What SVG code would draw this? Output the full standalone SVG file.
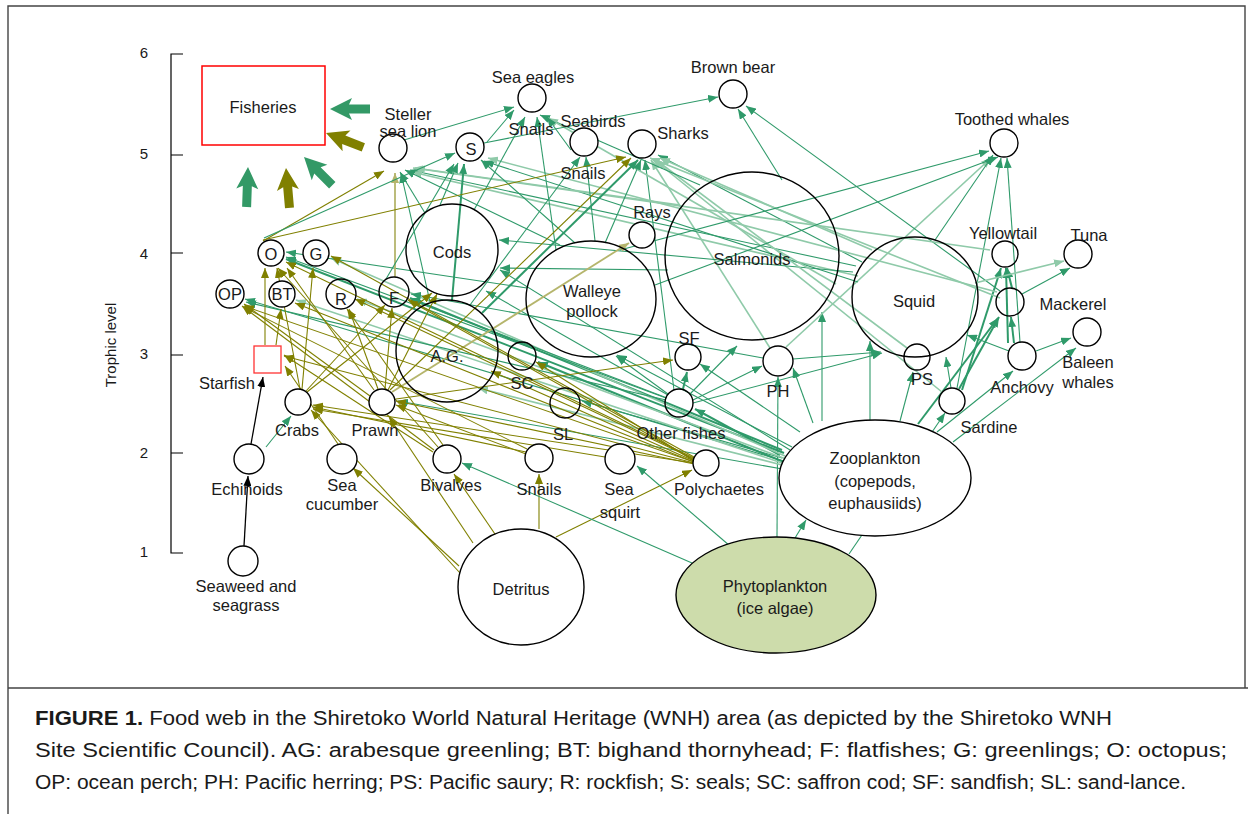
<svg xmlns="http://www.w3.org/2000/svg" width="1248" height="814" viewBox="0 0 1248 814">
<style>
text{font-family:"Liberation Sans",Arial,sans-serif;fill:#1a1a1a;}
.lb{font-size:16.5px;text-anchor:middle;dominant-baseline:central;}
.ax{font-size:15px;text-anchor:middle;dominant-baseline:central;}
.cap{font-size:20px;}
.n{fill:#fff;stroke:#000;stroke-width:1.4;}
line{fill:none;}
.k{stroke:#000;stroke-width:1.3;marker-end:url(#mk);}
.g{stroke:#2f9a6a;stroke-width:1.1;marker-end:url(#mg);}
.gt{stroke:#2f9a6a;stroke-width:2;marker-end:url(#mg);}
.gl{stroke:#8fcaa9;stroke-width:1.6;marker-end:url(#mgl);}
.o{stroke:#808000;stroke-width:1.1;marker-end:url(#mo);}
.ol{stroke:#b5b56c;stroke-width:1.8;marker-end:url(#mol);}
.frame{fill:none;stroke:#444;stroke-width:1.4;}
</style>
<defs>
<marker id="mg" viewBox="0 0 10 8" refX="10" refY="4" markerWidth="10" markerHeight="8" markerUnits="userSpaceOnUse" orient="auto"><path d="M0,0 L10,4 L0,8 z" fill="#2f9a6a"/></marker>
<marker id="mgl" viewBox="0 0 10 8" refX="10" refY="4" markerWidth="10" markerHeight="8" markerUnits="userSpaceOnUse" orient="auto"><path d="M0,0 L10,4 L0,8 z" fill="#8fcaa9"/></marker>
<marker id="mo" viewBox="0 0 10 8" refX="10" refY="4" markerWidth="10" markerHeight="8" markerUnits="userSpaceOnUse" orient="auto"><path d="M0,0 L10,4 L0,8 z" fill="#808000"/></marker>
<marker id="mol" viewBox="0 0 10 8" refX="10" refY="4" markerWidth="10" markerHeight="8" markerUnits="userSpaceOnUse" orient="auto"><path d="M0,0 L10,4 L0,8 z" fill="#b5b56c"/></marker>
<marker id="mk" viewBox="0 0 10 8" refX="10" refY="4" markerWidth="10" markerHeight="8" markerUnits="userSpaceOnUse" orient="auto"><path d="M0,0 L10,4 L0,8 z" fill="#000"/></marker>
<path id="big" d="M0,0 L11,22 L4.5,19 L4.5,40 L-4.5,40 L-4.5,19 L-11,22 Z"/>
</defs>
<rect width="1248" height="814" fill="#fff"/>
<path class="frame" d="M8,814 L8,6 L1245,6 L1245,688 M8,688 L1248,688"/>

<g id="axis">
<path d="M183,54 L171,54 L171,553 L183,553 M171,155 L183,155 M171,253 L183,253 M171,355 L183,355 M171,453 L183,453" fill="none" stroke="#000" stroke-width="1.2"/>
<text class="ax" x="144" y="52">6</text>
<text class="ax" x="144" y="153">5</text>
<text class="ax" x="144" y="253">4</text>
<text class="ax" x="144" y="353">3</text>
<text class="ax" x="144" y="452">2</text>
<text class="ax" x="144" y="551">1</text>
<text class="ax" x="0" y="0" font-size="16" transform="translate(110,345) rotate(-90)">Trophic level</text>
</g>

<g id="connectors">
<line class="k" x1="244" y1="546" x2="248" y2="476"/>
<line class="k" x1="251" y1="444" x2="263" y2="377"/>
<line class="g" x1="266" y1="447" x2="291" y2="416"/>
<!-- detritus -->
<line class="o" x1="460" y1="573" x2="311" y2="410"/>
<line class="o" x1="459" y1="566" x2="353" y2="468"/>
<line class="o" x1="473" y1="543" x2="389" y2="417"/>
<line class="o" x1="497" y1="537" x2="454" y2="474"/>
<line class="o" x1="539" y1="529" x2="539" y2="474"/>
<line class="o" x1="556" y1="537" x2="692" y2="470"/>
<!-- phytoplankton -->
<line class="g" x1="795" y1="538" x2="806" y2="520"/>
<line class="g" x1="730" y1="546" x2="637" y2="466"/>
<line class="g" x1="692" y1="563" x2="462" y2="463"/>
<line class="g" x1="777" y1="537" x2="778" y2="377"/>
<line class="g" x1="849" y1="554" x2="945" y2="413"/>
<!-- zooplankton -->
<line class="g" x1="822" y1="421" x2="822" y2="312"/>
<line class="g" x1="870" y1="421" x2="870" y2="341"/>
<line class="g" x1="900" y1="421" x2="913" y2="372"/>
<line class="g" x1="937" y1="432" x2="1013" y2="371"/>
<line class="g" x1="953" y1="442" x2="1076" y2="348"/>
<line class="gt" x1="918" y1="424" x2="998" y2="318"/>
<line class="gt" x1="780" y1="455" x2="695" y2="409"/>
<line class="g" x1="782" y1="458" x2="582" y2="401"/>
<line class="gt" x1="784" y1="462" x2="538" y2="362"/>
<line class="gl" x1="786" y1="466" x2="478" y2="388"/>
<line class="g" x1="788" y1="470" x2="398" y2="401"/>
<line class="gt" x1="782" y1="450" x2="410" y2="298"/>
<line class="gt" x1="784" y1="453" x2="286" y2="259"/>
<line class="gl" x1="785" y1="456" x2="331" y2="258"/>
<line class="gl" x1="786" y1="459" x2="357" y2="299"/>
<line class="g" x1="787" y1="462" x2="245" y2="299"/>
<line class="gl" x1="788" y1="465" x2="296" y2="300"/>
<line class="g" x1="813" y1="423" x2="793" y2="368"/>
<line class="g" x1="800" y1="432" x2="700" y2="364"/>
<line class="g" x1="792" y1="447" x2="617" y2="355"/>
<line class="g" x1="790" y1="450" x2="500" y2="270"/>
<!-- other fishes -->
<line class="gt" x1="683" y1="389" x2="687" y2="372"/>
<line class="g" x1="690" y1="394" x2="737" y2="346"/>
<line class="g" x1="693" y1="400" x2="762" y2="366"/>
<line class="g" x1="693" y1="403" x2="882" y2="353"/>
<line class="g" x1="666" y1="398" x2="286" y2="257"/>
<line class="g" x1="666" y1="400" x2="246" y2="302"/>
<line class="g" x1="667" y1="398" x2="411" y2="300"/>
<line class="g" x1="668" y1="395" x2="486" y2="291"/>
<line class="g" x1="674" y1="390" x2="645" y2="160"/>
<line class="g" x1="668" y1="394" x2="616" y2="356"/>
<!-- PH -->
<line class="g" x1="793" y1="359" x2="881" y2="352"/>
<line class="g" x1="763" y1="358" x2="411" y2="294"/>
<line class="gl" x1="770" y1="348" x2="651" y2="160"/>
<line class="gl" x1="786" y1="347" x2="991" y2="158"/>
<!-- sardine -->
<line class="g" x1="951" y1="388" x2="946" y2="357"/>
<line class="gt" x1="959" y1="389" x2="999" y2="317"/>
<line class="gt" x1="962" y1="390" x2="1001" y2="268"/>
<line class="g" x1="957" y1="388" x2="1001" y2="158"/>
<line class="gl" x1="942" y1="392" x2="653" y2="159"/>
<!-- anchovy -->
<line class="g" x1="1009" y1="351" x2="967" y2="335"/>
<line class="g" x1="1036" y1="351" x2="1071" y2="338"/>
<line class="gt" x1="1014" y1="343" x2="1011" y2="317"/>
<line class="g" x1="1020" y1="342" x2="1007" y2="158"/>
<line class="gt" x1="1008" y1="343" x2="1006" y2="268"/>
<!-- mackerel -->
<line class="g" x1="1022" y1="294" x2="1070" y2="268"/>
<line class="gt" x1="1012" y1="288" x2="1007" y2="268"/>
<line class="g" x1="1000" y1="291" x2="746" y2="106"/>
<!-- squid -->
<line class="g" x1="935" y1="240" x2="993" y2="155"/>
<line class="gl" x1="975" y1="283" x2="1064" y2="261"/>
<line class="g" x1="856" y1="266" x2="410" y2="170"/>
<line class="gl" x1="858" y1="276" x2="412" y2="172"/>
<line class="g" x1="858" y1="282" x2="484" y2="161"/>
<line class="g" x1="853" y1="272" x2="499" y2="240"/>
<line class="g" x1="862" y1="262" x2="658" y2="155"/>
<line class="gl" x1="872" y1="250" x2="660" y2="158"/>
<line class="gl" x1="907" y1="348" x2="656" y2="160"/>
<!-- salmonids -->
<line class="g" x1="782" y1="180" x2="738" y2="109"/>
<line class="g" x1="700" y1="185" x2="540" y2="115"/>
<line class="gl" x1="680" y1="205" x2="415" y2="168"/>
<line class="g" x1="668" y1="270" x2="500" y2="268"/>
<line class="gl" x1="990" y1="250" x2="413" y2="168"/>
<line class="gl" x1="997" y1="292" x2="488" y2="158"/>
<line class="gl" x1="1000" y1="298" x2="650" y2="158"/>
<line class="gl" x1="836" y1="284" x2="548" y2="118"/>
<!-- walleye pollock -->
<line class="g" x1="560" y1="245" x2="405" y2="170"/>
<line class="g" x1="575" y1="243" x2="481" y2="160"/>
<line class="g" x1="556" y1="250" x2="537" y2="117"/>
<line class="g" x1="605" y1="243" x2="641" y2="160"/>
<line class="g" x1="595" y1="241" x2="586" y2="157"/>
<line class="g" x1="620" y1="250" x2="989" y2="151"/>
<line class="g" x1="655" y1="285" x2="998" y2="157"/>
<line class="g" x1="527" y1="288" x2="286" y2="252"/>
<!-- cods -->
<line class="g" x1="440" y1="205" x2="458" y2="163"/>
<line class="g" x1="474" y1="210" x2="525" y2="117"/>
<line class="g" x1="425" y1="213" x2="400" y2="172"/>
<!-- A.G. -->
<line class="gt" x1="452" y1="300" x2="464" y2="164"/>
<line class="g" x1="430" y1="302" x2="401" y2="173"/>
<line class="gt" x1="482" y1="313" x2="638" y2="160"/>
<line class="g" x1="470" y1="305" x2="580" y2="157"/>
<!-- F, O -->
<line class="ol" x1="395" y1="277" x2="395" y2="173"/>
<line class="g" x1="386" y1="279" x2="454" y2="164"/>
<line class="o" x1="263" y1="241" x2="384" y2="171"/>
<line class="g" x1="264" y1="238" x2="455" y2="153"/>
<line class="o" x1="263" y1="240" x2="626" y2="157"/>
<!-- top predators -->
<line class="g" x1="404" y1="140" x2="514" y2="107"/>
<line class="g" x1="484" y1="143" x2="718" y2="97"/>
<line class="g" x1="487" y1="142" x2="514" y2="110"/>
<line class="g" x1="571" y1="150" x2="547" y2="117"/>
<!-- benthic olive -->
<line class="ol" x1="392" y1="392" x2="629" y2="243"/>
<line class="o" x1="265" y1="345" x2="265" y2="268"/>
<line class="o" x1="276" y1="345" x2="281" y2="309"/>
<line class="o" x1="300" y1="389" x2="277" y2="268"/>
<line class="o" x1="302" y1="389" x2="313" y2="268"/>
<line class="o" x1="306" y1="391" x2="385" y2="305"/>
<line class="o" x1="307" y1="392" x2="432" y2="293"/>
<line class="o" x1="374" y1="390" x2="287" y2="268"/>
<line class="o" x1="378" y1="389" x2="349" y2="309"/>
<line class="o" x1="385" y1="389" x2="392" y2="308"/>
<line class="o" x1="388" y1="390" x2="437" y2="294"/>
<line class="o" x1="370" y1="396" x2="244" y2="304"/>
<line class="o" x1="390" y1="390" x2="631" y2="158"/>
<line class="o" x1="396" y1="399" x2="673" y2="360"/>
<line class="o" x1="443" y1="445" x2="347" y2="309"/>
<line class="o" x1="438" y1="447" x2="278" y2="268"/>
<line class="o" x1="434" y1="450" x2="242" y2="306"/>
<line class="o" x1="433" y1="452" x2="284" y2="355"/>
<line class="o" x1="338" y1="444" x2="285" y2="366"/>
<line class="o" x1="526" y1="452" x2="313" y2="407"/>
<line class="o" x1="526" y1="454" x2="396" y2="405"/>
<line class="o" x1="527" y1="449" x2="243" y2="307"/>
<line class="o" x1="605" y1="457" x2="313" y2="409"/>
<line class="o" x1="694" y1="457" x2="331" y2="256"/>
<line class="o" x1="694" y1="458" x2="286" y2="262"/>
<line class="o" x1="694" y1="459" x2="355" y2="299"/>
<line class="o" x1="694" y1="460" x2="408" y2="300"/>
<line class="o" x1="694" y1="461" x2="491" y2="371"/>
<line class="o" x1="694" y1="461" x2="536" y2="362"/>
<line class="o" x1="694" y1="462" x2="244" y2="306"/>
<line class="o" x1="694" y1="462" x2="295" y2="303"/>
<line class="o" x1="694" y1="463" x2="313" y2="405"/>
<line class="o" x1="694" y1="463" x2="284" y2="356"/>
<line class="o" x1="694" y1="464" x2="396" y2="401"/>
</g>

<g id="fisheries-arrows">
<use href="#big" fill="#339966" transform="translate(330,109) rotate(-90)"/>
<use href="#big" fill="#808000" transform="translate(326,133) rotate(-69)"/>
<use href="#big" fill="#339966" transform="translate(304,157) rotate(-45)"/>
<use href="#big" fill="#808000" transform="translate(286,168) rotate(-5)"/>
<use href="#big" fill="#339966" transform="translate(248,167) rotate(2)"/>
</g>

<g id="fisheries"><rect x="202" y="66" width="123" height="79" fill="#fff" stroke="#ff0000" stroke-width="1.5"/><text class="lb" x="263" y="107">Fisheries</text></g>
<g id="steller"><circle class="n" cx="393" cy="148" r="14"/><text class="lb" x="408" y="114">Steller</text><text class="lb" x="408" y="131">sea lion</text></g>
<g id="seals"><circle class="n" cx="470" cy="147" r="14"/><text class="lb" x="471" y="149">S</text></g>
<g id="sea-eagles"><circle class="n" cx="532" cy="98" r="14"/><text class="lb" x="533" y="77">Sea eagles</text></g>
<g id="snails-label-1"><text class="lb" x="531" y="129">Snails</text></g>
<g id="seabirds"><circle class="n" cx="584" cy="142" r="14"/><text class="lb" x="593" y="121">Seabirds</text></g>
<g id="snails-label-2"><text class="lb" x="583" y="173">Snails</text></g>
<g id="sharks"><circle class="n" cx="642" cy="144" r="14"/><text class="lb" x="683" y="133">Sharks</text></g>
<g id="brown-bear"><circle class="n" cx="733" cy="94" r="14"/><text class="lb" x="733" y="67">Brown bear</text></g>
<g id="toothed-whales"><circle class="n" cx="1004" cy="143" r="14"/><text class="lb" x="1012" y="119">Toothed whales</text></g>
<g id="rays"><circle class="n" cx="642" cy="235" r="13"/><text class="lb" x="652" y="212">Rays</text></g>
<g id="cods"><circle class="n" cx="452" cy="250" r="46" style="fill:none"/><text class="lb" x="452" y="252">Cods</text></g>
<g id="walleye-pollock"><ellipse class="n" cx="591" cy="299" rx="65" ry="58" style="fill:none"/><text class="lb" x="592" y="291">Walleye</text><text class="lb" x="592" y="311">pollock</text></g>
<g id="salmonids"><ellipse class="n" cx="752" cy="256" rx="87" ry="84" style="fill:none"/><text class="lb" x="752" y="259">Salmonids</text></g>
<g id="squid"><ellipse class="n" cx="915" cy="297" rx="63" ry="60" style="fill:none"/><text class="lb" x="914" y="301">Squid</text></g>
<g id="ag"><circle class="n" cx="447" cy="351" r="51" style="fill:none"/><text class="lb" x="447" y="356">A.G.</text></g>
<g id="yellowtail"><circle class="n" cx="1005" cy="254" r="13" style="fill:none"/><text class="lb" x="1003" y="233">Yellowtail</text></g>
<g id="tuna"><circle class="n" cx="1078" cy="254" r="14"/><text class="lb" x="1089" y="235">Tuna</text></g>
<g id="mackerel"><circle class="n" cx="1010" cy="302" r="14" style="fill:none"/><text class="lb" x="1073" y="304">Mackerel</text></g>
<g id="baleen-whales"><circle class="n" cx="1087" cy="332" r="14"/><text class="lb" x="1088" y="362">Baleen</text><text class="lb" x="1088" y="382">whales</text></g>
<g id="anchovy"><circle class="n" cx="1022" cy="356" r="14" style="fill:none"/><text class="lb" x="1022" y="387">Anchovy</text></g>
<g id="ps"><circle class="n" cx="917" cy="357" r="13" style="fill:none"/><text class="lb" x="922" y="379">PS</text></g>
<g id="sardine"><circle class="n" cx="952" cy="401" r="13"/><text class="lb" x="989" y="427">Sardine</text></g>
<g id="ph"><circle class="n" cx="778" cy="361" r="15" style="fill:none"/><text class="lb" x="778" y="391">PH</text></g>
<g id="sf"><circle class="n" cx="688" cy="357" r="13" style="fill:none"/><text class="lb" x="689" y="338">SF</text></g>
<g id="sc"><circle class="n" cx="522" cy="356" r="14" style="fill:none"/><text class="lb" x="522" y="383">SC</text></g>
<g id="sl"><circle class="n" cx="565" cy="403" r="15" style="fill:none"/><text class="lb" x="563" y="434">SL</text></g>
<g id="other-fishes"><circle class="n" cx="679" cy="403" r="14" style="fill:none"/><text class="lb" x="681" y="433">Other fishes</text></g>
<g id="zooplankton"><ellipse class="n" cx="875" cy="478" rx="96" ry="58"/><text class="lb" x="875" y="458">Zooplankton</text><text class="lb" x="875" y="481">(copepods,</text><text class="lb" x="875" y="503">euphausiids)</text></g>
<g id="phytoplankton"><ellipse cx="776" cy="595" rx="100" ry="58" fill="#cddcab" stroke="#000" stroke-width="1.4"/><text class="lb" x="775" y="586">Phytoplankton</text><text class="lb" x="775" y="608">(ice algae)</text></g>
<g id="detritus"><ellipse class="n" cx="521" cy="587" rx="63" ry="58"/><text class="lb" x="521" y="589">Detritus</text></g>
<g id="polychaetes"><circle class="n" cx="706" cy="463" r="13"/><text class="lb" x="719" y="489">Polychaetes</text></g>
<g id="sea-squirt"><circle class="n" cx="620" cy="459" r="15"/><text class="lb" x="619" y="489">Sea</text><text class="lb" x="620" y="512">squirt</text></g>
<g id="snails"><circle class="n" cx="539" cy="458" r="14"/><text class="lb" x="539" y="489">Snails</text></g>
<g id="bivalves"><circle class="n" cx="447" cy="459" r="14"/><text class="lb" x="451" y="485">Bivalves</text></g>
<g id="sea-cucumber"><circle class="n" cx="342" cy="459" r="15"/><text class="lb" x="342" y="485">Sea</text><text class="lb" x="342" y="504">cucumber</text></g>
<g id="echinoids"><circle class="n" cx="249" cy="459" r="15"/><text class="lb" x="247" y="489">Echinoids</text></g>
<g id="seaweed"><circle class="n" cx="243" cy="561" r="15"/><text class="lb" x="246" y="586">Seaweed and</text><text class="lb" x="246" y="605">seagrass</text></g>
<g id="crabs"><circle class="n" cx="298" cy="402" r="13"/><text class="lb" x="297" y="430">Crabs</text></g>
<g id="prawn"><circle class="n" cx="382" cy="402" r="13"/><text class="lb" x="375" y="430">Prawn</text></g>
<g id="starfish"><rect x="254" y="346" width="27" height="27" fill="#fff" stroke="#ff3333" stroke-width="1.3"/><text class="lb" x="227" y="383">Starfish</text></g>
<g id="o"><circle class="n" cx="271" cy="253" r="13"/><text class="lb" x="271" y="254">O</text></g>
<g id="g"><circle class="n" cx="316" cy="253" r="13"/><text class="lb" x="316" y="254">G</text></g>
<g id="op"><circle class="n" cx="230" cy="294" r="14"/><text class="lb" x="230" y="294">OP</text></g>
<g id="bt"><circle class="n" cx="282" cy="294" r="13"/><text class="lb" x="282" y="294">BT</text></g>
<g id="r"><circle class="n" cx="341" cy="294" r="15" style="fill:none"/><text class="lb" x="341" y="299">R</text></g>
<g id="f"><circle class="n" cx="394" cy="292" r="15" style="fill:none"/><text class="lb" x="394" y="298">F</text></g>

<g id="caption">
<text class="cap" x="35" y="725" textLength="1077" lengthAdjust="spacingAndGlyphs"><tspan font-weight="bold">FIGURE 1.</tspan> Food web in the Shiretoko World Natural Heritage (WNH) area (as depicted by the Shiretoko WNH</text>
<text class="cap" x="35" y="757" textLength="1192" lengthAdjust="spacingAndGlyphs">Site Scientific Council). AG: arabesque greenling; BT: bighand thornyhead; F: flatfishes; G: greenlings; O: octopus;</text>
<text class="cap" x="35" y="789" textLength="1151" lengthAdjust="spacingAndGlyphs">OP: ocean perch; PH: Pacific herring; PS: Pacific saury; R: rockfish; S: seals; SC: saffron cod; SF: sandfish; SL: sand-lance.</text>
</g>
</svg>
